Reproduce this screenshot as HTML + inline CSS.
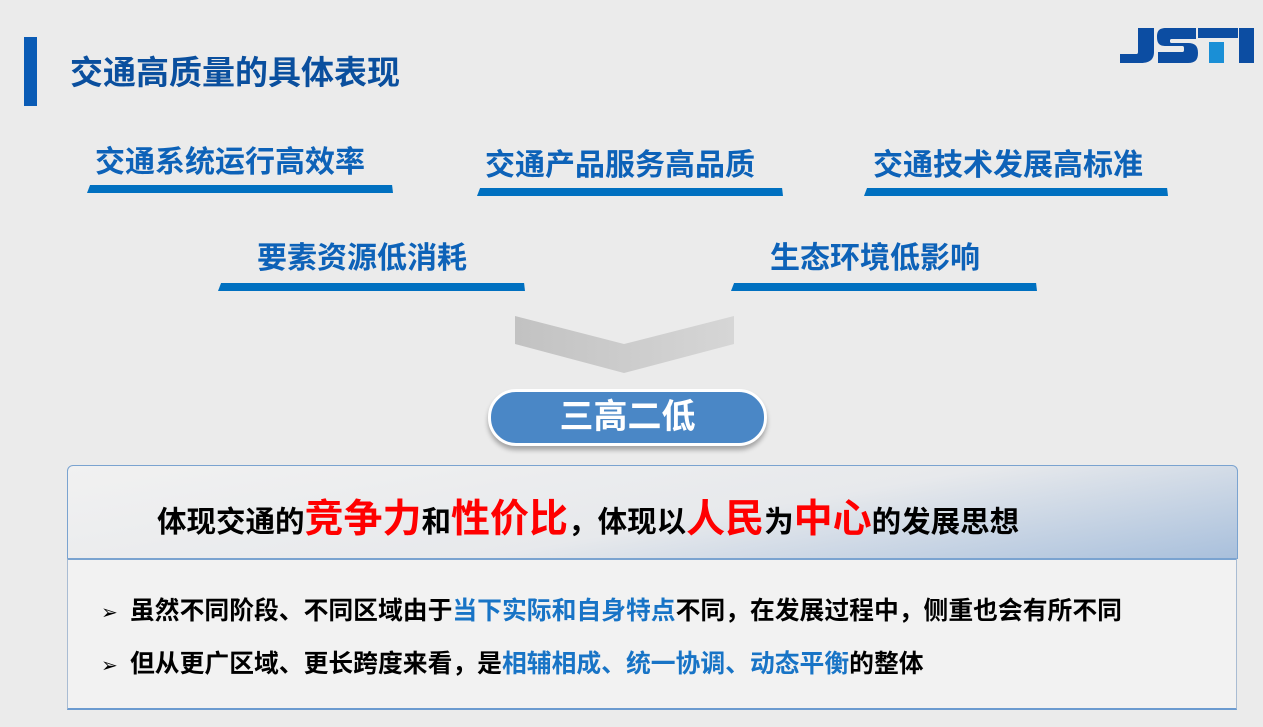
<!DOCTYPE html>
<html><head><meta charset="utf-8"><style>
*{margin:0;padding:0;box-sizing:border-box}
body{width:1263px;height:727px;background:#ebebeb;position:relative;overflow:hidden;font-family:"Liberation Sans","Noto Sans CJK SC",sans-serif;font-weight:bold}
.a{position:absolute;white-space:nowrap}
.lbl{color:#0d62b8;font-size:30px;line-height:34px}
.bar{position:absolute;height:8px;background:#0070c0}
.b{color:#1874c6}
.r{color:#ff0000;font-size:39px}
.ar{position:absolute;left:101px;font-size:20px;font-weight:normal;color:#000}
</style></head><body>
<div class="a" style="left:24px;top:37px;width:13px;height:69px;background:#0a5bb5"></div>
<div class="a" style="left:70px;top:54px;font-size:33px;line-height:38px;color:#0a4f9e">交通高质量的具体表现</div>
<svg class="a" style="left:1118px;top:27px" width="140" height="38" viewBox="0 0 140 38">
<path d="M20 1h16v24c0 8-5 11-13 11H2v-9h16c2 0 2-1 2-3z" fill="#0c4da2"/>
<path d="M78 1H48c-7 0-9 3-9 9 0 7 3 9 9 9h16c2 0 2 1 2 3s0 3-2 3H40v11h30c7 0 10-3 10-10 0-7-3-10-10-10H54c-2 0-2-1-2-2s0-2 2-2h24z" fill="#0c4da2"/>
<rect x="80" y="1" width="40" height="10" fill="#0c4da2"/>
<rect x="91" y="15" width="15" height="21" fill="#1a8fd6"/>
<rect x="121" y="1" width="15" height="35" fill="#0c4da2"/>
</svg>

<div class="a lbl" style="left:95px;top:146px">交通系统运行高效率</div>
<div class="bar" style="left:87px;top:185px;width:306px;clip-path:polygon(1% 0,99.7% 0,100% 100%,0 100%)"></div>
<div class="a lbl" style="left:485px;top:149px">交通产品服务高品质</div>
<div class="bar" style="left:477px;top:188px;width:306px;clip-path:polygon(1% 0,99.7% 0,100% 100%,0 100%)"></div>
<div class="a lbl" style="left:873px;top:149px">交通技术发展高标准</div>
<div class="bar" style="left:864px;top:188px;width:304px;clip-path:polygon(1% 0,99.7% 0,100% 100%,0 100%)"></div>
<div class="a lbl" style="left:257px;top:242px">要素资源低消耗</div>
<div class="bar" style="left:218px;top:283px;width:307px;clip-path:polygon(1% 0,99.7% 0,100% 100%,0 100%)"></div>
<div class="a lbl" style="left:770px;top:242px">生态环境低影响</div>
<div class="bar" style="left:731px;top:283px;width:306px;clip-path:polygon(1% 0,99.7% 0,100% 100%,0 100%)"></div>

<svg class="a" style="left:515px;top:316px" width="220" height="58">
<defs><linearGradient id="g" x1="0" x2="1"><stop offset="0" stop-color="#c2c2c2"/><stop offset="1" stop-color="#d6d6d6"/></linearGradient></defs>
<polygon points="0,0 109,28 219,0 219,28 109,57 0,28" fill="url(#g)"/>
</svg>

<div class="a" style="left:488px;top:389px;width:279px;height:57px;border-radius:28px;background:#4a87c6;border:3px solid #fff;box-shadow:0 4px 5px rgba(0,0,0,.3);color:#fff;font-size:34px;line-height:51px;text-align:center">三高二低</div>

<div class="a" style="left:67px;top:465px;width:1171px;height:94px;border:1px solid #7aa3d0;border-radius:6px 6px 0 0;background:linear-gradient(170deg,#f1f1f1 0%,#e7e9ec 55%,#a9c0dc 100%)"></div>
<div class="a" style="left:157px;top:497px;font-size:29.5px;line-height:46px;color:#000">体现交通的<span class="r">竞争力</span>和<span class="r">性价比</span>，体现以<span class="r">人民</span>为<span class="r">中心</span>的发展思想</div>

<div class="a" style="left:67px;top:558px;width:1170px;height:152px;background:#f2f2f2;border:1px solid #a9bcd3;border-top:2px solid #7aa3d0;border-bottom:2px solid #6c9bd0"></div>
<div class="ar" style="top:600px">➢</div>
<div class="a" style="left:130px;top:597px;font-size:24.8px;line-height:30px;color:#000">虽然不同阶段、不同区域由于<span class="b">当下实际和自身特点</span>不同，在发展过程中，侧重也会有所不同</div>
<div class="ar" style="top:653px">➢</div>
<div class="a" style="left:130px;top:650px;font-size:24.8px;line-height:30px;color:#000">但从更广区域、更长跨度来看，是<span class="b">相辅相成、统一协调、动态平衡</span>的整体</div>
</body></html>
